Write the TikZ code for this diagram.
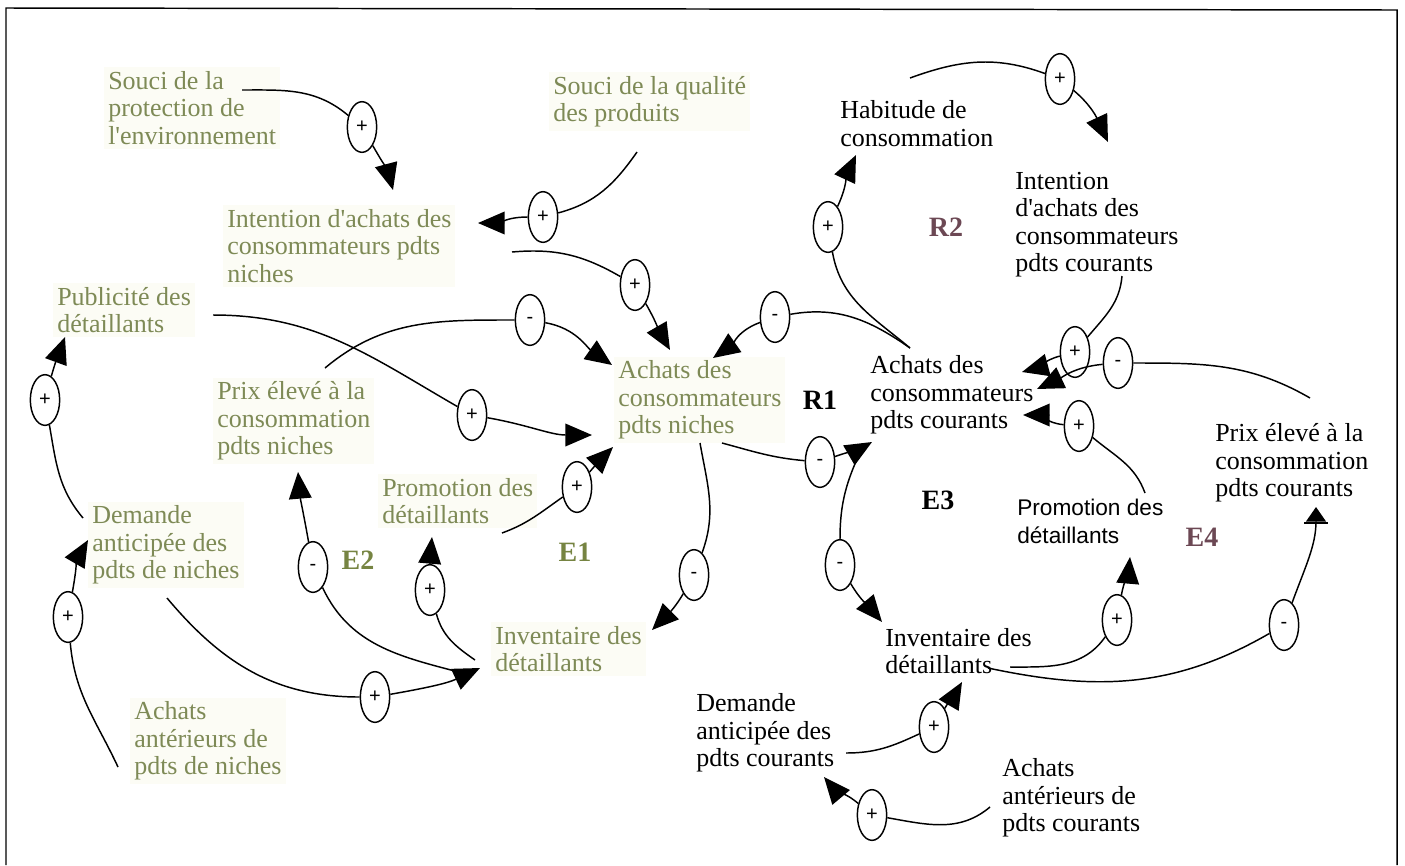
\documentclass[tikz,border=0pt]{standalone}
\usepackage{fontspec}
\setmainfont{Liberation Serif}
\setsansfont{Liberation Sans}
\usetikzlibrary{arrows.meta,shapes.geometric}
\definecolor{nichetext}{RGB}{126,138,86}
\definecolor{nichebg}{RGB}{252,252,245}
\definecolor{loopgreen}{RGB}{118,132,66}
\definecolor{loopmauve}{RGB}{108,72,84}

\begin{document}
\begin{tikzpicture}[x=0.75pt,y=-0.75pt,
  lbl/.style={anchor=west,align=left,inner sep=3pt,font=\fontsize{19.5}{20.6}\selectfont},
  niche/.style={lbl,text=nichetext,fill=nichebg},
  cour/.style={lbl,text=black},
  coursans/.style={lbl,text=black,font=\sffamily\fontsize{17}{20.6}\selectfont},
  pol/.style={ellipse,draw,line width=1.1pt,fill=white,minimum width=22pt,
    minimum height=38pt,inner sep=0pt,font=\sffamily\fontsize{15}{15}\selectfont},
  lnk/.style={line width=1.1pt},
  arr/.style={lnk,-{Triangle[length=20pt,width=17pt]}},
  barr/.style={lnk,-{Bar[width=18pt,line width=1.8pt] Triangle[length=11pt,width=15pt]}},
  looplbl/.style={font=\bfseries\fontsize{21}{21}\selectfont,inner sep=1pt}
]
\useasboundingbox (0,0) rectangle (1405,865);

% frame
\draw[line width=1.1pt] (6,865) -- (6,8) -- (1397,10) -- (1397,865);

% niche products (left half)
\node[niche] (soucienv)  at (104,108)   {Souci de la\\protection de\\l\textquotesingle environnement};
\node[niche] (intniche)  at (223,246)   {Intention d\textquotesingle achats des\\consommateurs pdts\\niches};
\node[niche] (souciqual) at (549,101.5) {Souci de la qualité\\des produits};
\node[niche] (pub)       at (53,310)    {Publicité des\\détaillants};
\node[niche] (prixniche) at (213,421)   {Prix élevé à la\\consommation\\pdts niches};
\node[niche] (achniche)  at (614,400)   {Achats des\\consommateurs\\pdts niches};
\node[niche] (promniche) at (378,501)   {Promotion des\\détaillants};
\node[niche] (demniche)  at (88,545)    {Demande\\anticipée des\\pdts de niches};
\node[niche] (invniche)  at (491,649)   {Inventaire des\\détaillants};
\node[niche] (antniche)  at (130,741)   {Achats\\antérieurs de\\pdts de niches};

% current products (right half)
\node[cour] (habit)    at (836,123.5)  {Habitude de\\consommation};
\node[cour] (intcour)  at (1011,224.5) {Intention\\d\textquotesingle achats des\\consommateurs\\pdts courants};
\node[cour] (achcour)  at (866,395)    {Achats des\\consommateurs\\pdts courants};
\node[cour] (prixcour) at (1211,463)   {Prix élevé à la\\consommation\\pdts courants};
\node[coursans] (promcour) at (1013,521.5) {Promotion des\\détaillants};
\node[cour] (invcour)  at (881,651)    {Inventaire des\\détaillants};
\node[cour] (demcour)  at (692,733)    {Demande\\anticipée des\\pdts courants};
\node[cour] (antcour)  at (998,798)    {Achats\\antérieurs de\\pdts courants};

% loop names
\node[looplbl] (r1) at (820,400) {R1};
\node[looplbl,text=loopmauve] (r2) at (946,227) {R2};
\node[looplbl,text=loopgreen] (e1) at (575,552) {E1};
\node[looplbl,text=loopgreen] (e2) at (358,560) {E2};
\node[looplbl] (e3) at (938,500) {E3};
\node[looplbl,text=loopmauve] (e4) at (1202,537) {E4};

% link polarities
\node[pol] (p1)  at (362,127)  {+};
\node[pol] (p2)  at (543,217)  {+};
\node[pol] (p3)  at (635,285)  {+};
\node[pol] (p4)  at (530,320)  {-};
\node[pol] (p5)  at (472,415)  {+};
\node[pol] (p6)  at (577,487)  {+};
\node[pol] (p7)  at (694,575)  {-};
\node[pol] (p8)  at (313,567)  {-};
\node[pol] (p9)  at (430,590)  {+};
\node[pol] (p10) at (375,697)  {+};
\node[pol] (p11) at (68,617)   {+};
\node[pol] (p12) at (45,400)   {+};
\node[pol] (p13) at (828,227)  {+};
\node[pol] (p14) at (1060,79)  {+};
\node[pol] (p15) at (1075,352) {+};
\node[pol] (p16) at (1118,363) {-};
\node[pol] (p17) at (1079,426) {+};
\node[pol] (p18) at (820,462)  {-};
\node[pol] (p19) at (840,565)  {-};
\node[pol] (p20) at (1117,620) {+};
\node[pol] (p21) at (1284,625) {-};
\node[pol] (p22) at (934,727)  {+};
\node[pol] (p23) at (872,815)  {+};
\node[pol] (p24) at (775,317)  {-};

% links, niche side
\draw[lnk] ([shift={(138,-18)}]soucienv.west) to[out=0,in=140] (p1);
\draw[arr] (p1) to[out=-60,in=105] ([shift={(170,-56)}]intniche.west);

\draw[lnk] ([shift={(88,50.5)}]souciqual.west) to[out=235,in=15] (p2);
\draw[arr] (p2) to[out=180,in=0] ([shift={(255,-23)}]intniche.west);

\draw[lnk] ([shift={(289,6)}]intniche.west) to[out=5,in=150] (p3);
\draw[arr] (p3) to[out=-60,in=120] ([shift={(56,-50)}]achniche.west);

\draw[lnk] ([shift={(160,5)}]pub.west) to[out=0,in=150] (p5);
\draw[arr] (p5) to[out=-10,in=180] ([shift={(-22,35)}]achniche.west);

\draw[lnk] ([shift={(112,-53)}]prixniche.west) to[out=40,in=180] (p4);
\draw[arr] (p4) to[out=-10,in=145] ([shift={(-2,-35)}]achniche.west);

\draw[lnk] ([shift={(124,32)}]promniche.west) to[out=20,in=215] (p6);
\draw[arr] (p6) to[out=50,in=225] ([shift={(-1,47)}]achniche.west);

\draw[lnk] ([shift={(86,43)}]achniche.west) to[out=-80,in=70] (p7);
\draw[arr] (p7) to[out=-120,in=45] ([shift={(161,-19)}]invniche.west);

\draw[lnk] ([shift={(-21,26)}]invniche.west) to[out=165,in=-65] (p8);
\draw[arr] (p8) to[out=100,in=-85] ([shift={(85,51)}]prixniche.west);

\draw[lnk] ([shift={(-16,11)}]invniche.west) to[out=145,in=-75] (p9);
\draw[arr] (p9) to[out=90,in=-95] ([shift={(54,36)}]promniche.west);

\draw[lnk] ([shift={(79,53)}]demniche.west) to[out=-50,in=180] (p10);
\draw[arr] (p10) to[out=10,in=205] ([shift={(-11,19)}]invniche.west);

\draw[lnk] ([shift={(-12,26)}]antniche.west) to[out=115,in=-85] (p11);
\draw[arr] (p11) to[out=80,in=-120] ([shift={(0,-5)}]demniche.west);

\draw[lnk] ([shift={(-5,-27)}]demniche.west) to[out=130,in=-80] (p12);
\draw[arr] (p12) to[out=75,in=-110] ([shift={(12,27)}]pub.west);

% links between the two markets
\draw[lnk] ([shift={(108,43)}]achniche.west) to[out=-15,in=175] (p18);
\draw[arr] (p18) to[out=20,in=210] ([shift={(6,47)}]achcour.west);

\draw[lnk] ([shift={(44,-47)}]achcour.west) to[out=145,in=10] (p24);
\draw[arr] (p24) to[out=200,in=35] ([shift={(99,-42)}]achniche.west);

% links, current side
\draw[lnk] ([shift={(44,-47)}]achcour.west) to[out=140,in=-80] (p13);
\draw[arr] (p13) to[out=65,in=-115] ([shift={(20,31.5)}]habit.west);

\draw[lnk] ([shift={(74,-45.5)}]habit.west) to[out=20,in=160] (p14);
\draw[arr] (p14) to[out=-40,in=115] ([shift={(97,-82.5)}]intcour.west);

\draw[lnk] ([shift={(111,51.5)}]intcour.west) to[out=-95,in=50] (p15);
\draw[arr] (p15) to[out=195,in=15] ([shift={(156,-23)}]achcour.west);

\draw[lnk] ([shift={(99,-65)}]prixcour.west) to[out=150,in=0] (p16);
\draw[arr] (p16) to[out=185,in=25] ([shift={(171,-6)}]achcour.west);

\draw[lnk] ([shift={(132,-28.5)}]promcour.west) to[out=110,in=-40] (p17);
\draw[arr] (p17) to[out=175,in=0] ([shift={(157,20)}]achcour.west);

\draw[lnk] ([shift={(-4,53)}]achcour.west) to[out=-115,in=90] (p19);
\draw[arr] (p19) to[out=-60,in=130] ([shift={(1,-29)}]invcour.west);

\draw[lnk] ([shift={(129,16)}]invcour.west) to[out=0,in=-125] (p20);
\draw[arr] (p20) to[out=80,in=-95] ([shift={(117,35.5)}]promcour.west);

\draw[lnk] ([shift={(107,17)}]invcour.west) to[out=-12,in=210] (p21);
\draw[barr] (p21) to[out=70,in=-90] ([shift={(105,44)}]prixcour.west);

\draw[lnk] ([shift={(154,20)}]demcour.west) to[out=0,in=205] (p22);
\draw[arr] (p22) to[out=60,in=-120] ([shift={(81,31)}]invcour.west);

\draw[lnk] ([shift={(-8,9)}]antcour.west) to[out=220,in=-10] (p23);
\draw[arr] (p23) to[out=140,in=-50] ([shift={(132,44)}]demcour.west);
\end{tikzpicture}
\end{document}
